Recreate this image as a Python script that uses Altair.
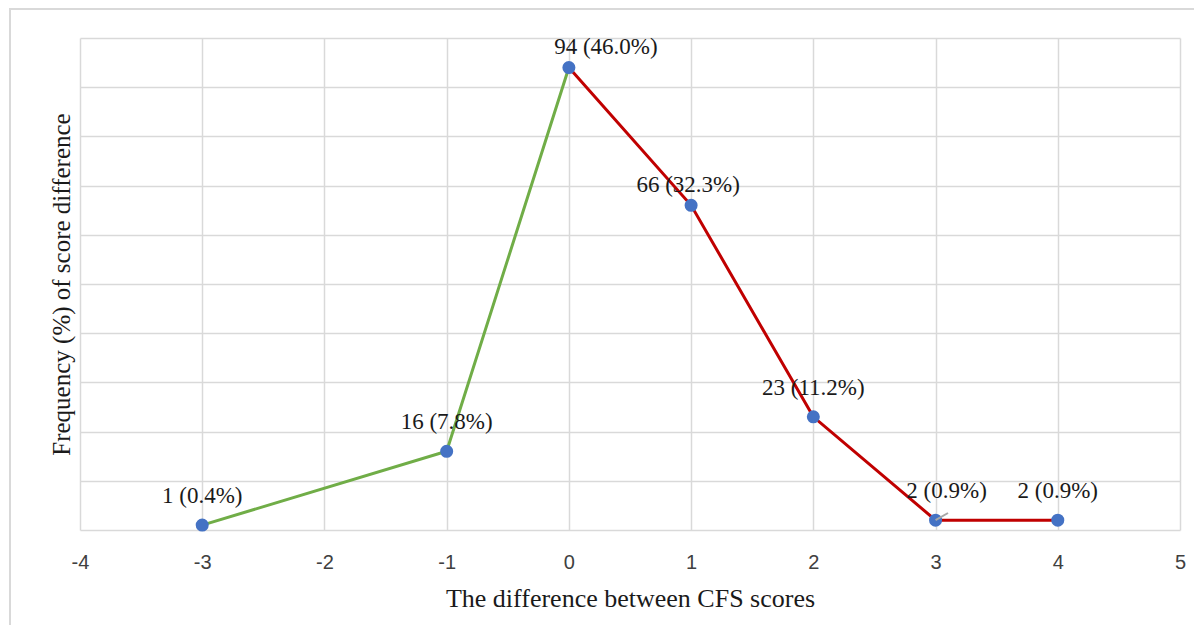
import altair as alt
import pandas as pd

diffs = [-3, -1, 0, 1, 2, 3, 4]
counts = [1, 16, 94, 66, 23, 2, 2]
labels = ["1 (0.4%)", "16 (7.8%)", "94 (46.0%)", "66 (32.3%)", "23 (11.2%)", "2 (0.9%)", "2 (0.9%)"]

pts = pd.DataFrame({"diff": diffs, "count": counts, "label": labels})

rows = []
for d, c in zip(diffs, counts):
    if d <= 0:
        rows.append({"diff": d, "count": c, "seg": "neg"})
    if d >= 0:
        rows.append({"diff": d, "count": c, "seg": "pos"})
lines = pd.DataFrame(rows)

xs = alt.Scale(domain=[-4, 5], nice=False)
ys = alt.Scale(domain=[0, 100], nice=False)

x_axis = alt.Axis(values=list(range(-4, 6)), title="The difference between CFS scores",
                  labelExpr="'' + datum.value", labelFlush=False,
                  grid=True, gridColor="#d9d9d9", gridWidth=1.5, domain=False, ticks=False,
                  labelFont="Liberation Sans", labelFontSize=20, labelColor="#404040", labelPadding=22,
                  titleFont="Liberation Serif", titleFontSize=26, titleFontWeight="normal",
                  titleColor="#1a1a1a", titlePadding=13)
y_axis = alt.Axis(values=list(range(0, 101, 10)), title="Frequency (%) of score difference",
                  grid=True, gridColor="#d9d9d9", gridWidth=1.5, domain=False, ticks=False, labels=False,
                  titleFont="Liberation Serif", titleFontSize=25, titleFontWeight="normal",
                  titleColor="#1a1a1a", titlePadding=6)

frame = alt.Chart(pts).mark_rect(fill=None, stroke="#d9d9d9", strokeWidth=2).encode(
    x=alt.value(-70), x2=alt.value(1130), y=alt.value(-29), y2=alt.value(650))

base_line = alt.Chart(lines).mark_line(strokeWidth=3).encode(
    x=alt.X("diff:Q", scale=xs, axis=x_axis),
    y=alt.Y("count:Q", scale=ys, axis=y_axis),
    color=alt.Color("seg:N", scale=alt.Scale(domain=["neg", "pos"], range=["#70AD47", "#C00000"]), legend=None),
    detail="seg:N",
)

points = alt.Chart(pts).mark_point(filled=True, size=170, color="#4472C4", opacity=1).encode(
    x=alt.X("diff:Q", scale=xs),
    y=alt.Y("count:Q", scale=ys),
)

leader = alt.Chart(pts).transform_filter("datum.diff == 3").mark_rule(
    color="#a6a6a6", strokeWidth=2).encode(
    x=alt.X("diff:Q", scale=xs),
    y=alt.Y("count:Q", scale=ys),
    x2=alt.value(868), y2=alt.value(475),
)

def labels_layer(cond, dx, dy):
    return alt.Chart(pts).transform_filter(cond).mark_text(
        dx=dx, dy=dy, font="Liberation Serif", fontSize=23, color="#1a1a1a").encode(
        x=alt.X("diff:Q", scale=xs),
        y=alt.Y("count:Q", scale=ys),
        text="label:N",
    )

text_main = labels_layer("datum.diff != 0 && datum.diff != 1 && datum.diff != 3", 0, -29)
text_top = labels_layer("datum.diff == 0", 37, -21)
text_66 = labels_layer("datum.diff == 1", -3, -20)
text_3 = labels_layer("datum.diff == 3", 11, -29)

chart = alt.layer(frame, base_line, points, leader, text_main, text_top, text_66, text_3).properties(
    width=1100, height=492,
    autosize=alt.AutoSizeParams(type="none"),
    padding={"left": 72, "top": 30, "right": 14, "bottom": 95},
).configure_view(stroke=None)

chart.save("out.html", embed_options={"renderer": "svg", "actions": False})
